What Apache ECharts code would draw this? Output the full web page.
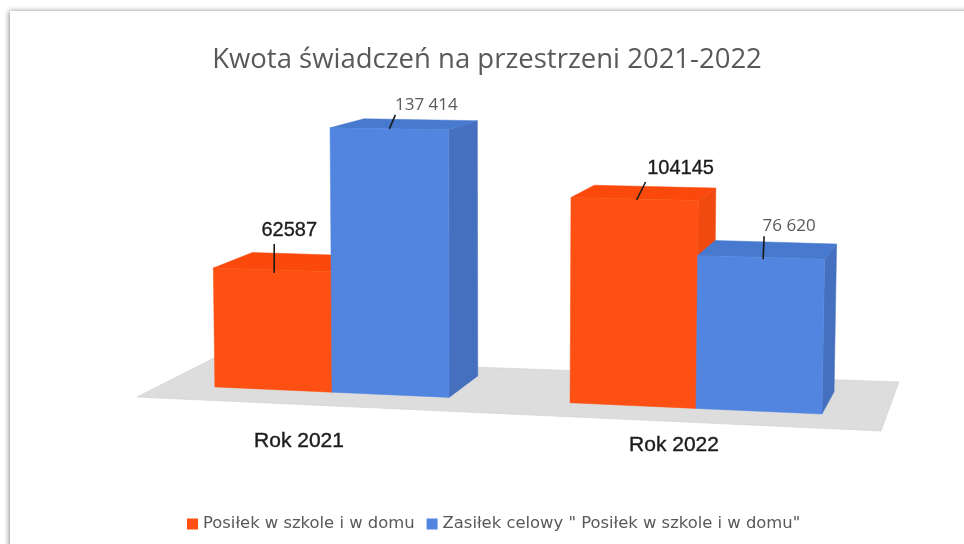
<!DOCTYPE html>
<html>
<head>
<meta charset="utf-8">
<style>html,body{margin:0;padding:0;background:#fff}#c{width:964px;height:544px;filter:blur(0.35px)}</style>
<script src="https://cdn.jsdelivr.net/npm/echarts@6/dist/echarts.min.js"></script>
</head>
<body>
<div id="c"></div>
<script>
const categories = ['Rok 2021', 'Rok 2022'];
const seriesNames = ['Posiłek w szkole i w domu', 'Zasiłek celowy " Posiłek w szkole i w domu"'];
const mealValues = [62587, 104145];
const allowanceValues = [137414, 76620];
const mealLabels = ['62587', '104145'];
const allowanceLabels = ['137 414', '76 620'];
const titleText = 'Kwota świadczeń na przestrzeni 2021-2022';

const faces = [
  {front: '#FD5012', top: '#FB490B', side: '#F04A10'},
  {front: '#5285E0', top: '#4779CE', side: '#4570BF'}
];
// leader line and label offsets from the centre of each bar's top edge
const callouts = [
  [{a: [2, 3], b: [2, -26], t: [17, -39]}, {a: [2, 1], b: [11, -17], t: [46, -31]}],
  [{a: [0, 0], b: [6, -14], t: [37, -24]}, {a: [2, 2], b: [3, -21], t: [28, -31]}]
];
const textStyles = [
  {fontFamily: 'Liberation Sans', fontSize: 20, fill: '#1c1c1c', stroke: '#1c1c1c', lineWidth: 0.35},
  {fontFamily: 'Open Sans', fontSize: 17, fill: '#595959'}
];

// pseudo-perspective applied on top of the axis scales
const baseAt = (x, zeroY) => zeroY - 3 + (x - 216) * 0.0446;
const gainAt = x => (0.0019 + (x - 214) * 2.0e-7) / 0.00195;
const backOf = p => [p[0] + 12 + (825 - p[0]) * 0.0443, p[1] - (9 + (p[1] - 127) * 0.0463)];

function barRenderer(si, texts) {
  return function (params, api) {
    const cat = api.value(0), val = api.value(1);
    const top = api.coord([cat, val]), zero = api.coord([cat, 0]);
    const band = api.size([1, 0])[0];
    const c = zero[0];
    const w = band * 0.3338 * (1 + (c - 513) * 0.0002);
    const x0 = si === 0 ? c - w : c, x1 = si === 0 ? c : c + w;
    const h = zero[1] - top[1];
    const corner = x => {
      const b = [x, baseAt(x, zero[1])];
      const ph = h * gainAt(x);
      return {b, t: [x + (x - 480) * ph * 5e-5, b[1] - ph]};
    };
    const L = corner(x0), R = corner(x1);
    const f = faces[si];
    const poly = (points, fill) => ({type: 'polygon', shape: {points}, style: {fill, stroke: fill, lineWidth: 0.5}});
    const mid = [(L.t[0] + R.t[0]) / 2, (L.t[1] + R.t[1]) / 2];
    const co = callouts[si][cat];
    return {
      type: 'group',
      children: [
        poly([R.b, R.t, backOf(R.t), backOf(R.b)], f.side),
        poly([L.t, R.t, backOf(R.t), backOf(L.t)], f.top),
        poly([L.b, R.b, R.t, L.t], f.front),
        {type: 'line', shape: {x1: mid[0] + co.a[0], y1: mid[1] + co.a[1], x2: mid[0] + co.b[0], y2: mid[1] + co.b[1]},
         style: {stroke: '#1a1a1a', lineWidth: 1.6}},
        {type: 'text', x: mid[0] + co.t[0], y: mid[1] + co.t[1],
         style: Object.assign({text: texts[cat], align: 'center', verticalAlign: 'middle'}, textStyles[si])}
      ]
    };
  };
}
const rows = arr => arr.map((v, i) => [i, v]);

const chart = echarts.init(document.getElementById('c'), null, {renderer: 'canvas'});
const axisText = {fontFamily: 'Liberation Sans', fontSize: 21, color: '#1c1c1c', textBorderColor: '#1c1c1c', textBorderWidth: 0.4};
chart.setOption({
  animation: false,
  backgroundColor: '#ffffff',
  color: ['#FD5012', '#5285E0'],
  title: {
    text: titleText, left: 482, top: 41, textAlign: 'center',
    textStyle: {fontFamily: 'Open Sans', fontSize: 27.5, fontWeight: 'normal', color: '#595959'}
  },
  legend: {
    data: seriesNames, left: 187, top: 516, itemWidth: 11, itemHeight: 11, itemGap: 12,
    icon: 'rect', textStyle: {fontFamily: 'DejaVu Sans', fontSize: 16.4, color: '#595959'}, padding: 0
  },
  grid: {left: 150, width: 728, top: 117, height: 273},
  xAxis: {
    type: 'category', data: categories,
    axisLine: {show: false}, axisTick: {show: false},
    axisLabel: {
      interval: 0, margin: 41,
      formatter: (v, i) => '{l' + i + '|' + v + '}',
      rich: {
        l0: Object.assign({padding: [0, 66, 0, 0]}, axisText),
        l1: Object.assign({padding: [4, 44, 0, 0]}, axisText)
      }
    }
  },
  yAxis: {type: 'value', min: 0, max: 140000, show: false},
  graphic: [
    {type: 'rect', z: -10, shape: {x: 10, y: 11, width: 1100, height: 700},
     style: {fill: '#fff', shadowBlur: 5, shadowColor: 'rgba(0,0,0,0.45)', shadowOffsetX: -1, shadowOffsetY: 0}},
    {type: 'polygon', z: -5, shape: {points: [[137, 397], [214, 358], [899, 382], [881, 431]]},
     style: {fill: '#DDDDDD', stroke: '#cfcfcf', lineWidth: 0.6}}
  ],
  series: [
    {name: seriesNames[0], type: 'custom', data: rows(mealValues), clip: false, z: 3,
     renderItem: barRenderer(0, mealLabels)},
    {name: seriesNames[1], type: 'custom', data: rows(allowanceValues), clip: false, z: 4,
     renderItem: barRenderer(1, allowanceLabels)}
  ]
});
</script>
</body>
</html>
